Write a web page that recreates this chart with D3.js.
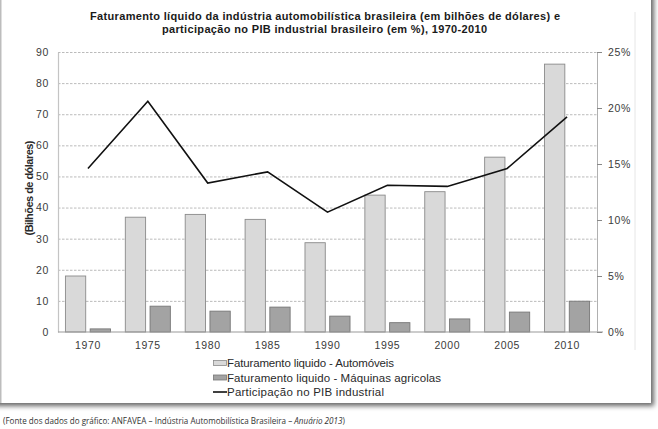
<!DOCTYPE html>
<html>
<head>
<meta charset="utf-8">
<script src="https://cdn.jsdelivr.net/npm/d3@7"></script>
<style>
  body { margin: 0; background: #fff; }
  svg { display: block; }
</style>
</head>
<body>
<div id="chart"></div>
<script>
// dados
var years = ["1970","1975","1980","1985","1990","1995","2000","2005","2010"]
var automoveis = [18.0, 36.9, 37.8, 36.2, 28.7, 44.0, 45.1, 56.2, 86.1]
var maquinas = [1.0, 8.3, 6.7, 8.0, 5.1, 3.0, 4.2, 6.4, 9.9]
var pibShare = [14.6, 20.6, 13.3, 14.3, 10.7, 13.1, 13.0, 14.6, 19.2]
var leftTicks = [0,10,20,30,40,50,60,70,80,90]
var rightTicks = [0,5,10,15,20,25]
var legendLabels = ["Faturamento liquido - Automóveis", "Faturamento liquido - Máquinas agricolas", "Participação no PIB industrial"]
var legendWidths = [167, 214, 157]

var W = 658, H = 429
var margin = {top: 52, right: 61, bottom: 97, left: 58}
var width = W - margin.left - margin.right,
    height = H - margin.top - margin.bottom

var svg = d3.select("#chart").append("svg")
  .attr("width", W)
  .attr("height", H)
  .style("font-family", "'Liberation Sans', Arial, sans-serif")

// painel com sombra
var defs = svg.append("defs")
var f = defs.append("filter").attr("id", "shadow").attr("x", "-5%").attr("y", "-5%").attr("width", "115%").attr("height", "120%")
f.append("feDropShadow").attr("dx", 3).attr("dy", 3).attr("stdDeviation", 2.5).attr("flood-color", "#000").attr("flood-opacity", 0.6)

svg.append("rect").attr("x", -10).attr("y", -10).attr("width", 661).attr("height", 413)
  .attr("fill", "#fff").attr("filter", "url(#shadow)")
svg.append("rect").attr("x", 0).attr("y", 0).attr("width", 1.5).attr("height", 403).attr("fill", "#bdbdbd")

// linha clara a direita
svg.append("line").attr("x1", 635).attr("x2", 635).attr("y1", 12).attr("y2", 350)
  .attr("stroke", "#e6e6e6").attr("stroke-width", 1)

var g = svg.append("g").attr("transform", "translate(" + margin.left + "," + margin.top + ")")

var x0 = d3.scaleBand().domain(years).range([0, width]).paddingInner(0).paddingOuter(0)
var x1 = d3.scaleBand().domain(["a","m"]).range([0, x0.bandwidth()]).paddingInner(0.18).paddingOuter(0.3)
var y = d3.scaleLinear().domain([0, 90]).range([height, 0])
var y2 = d3.scaleLinear().domain([0, 25]).range([height, 0])

// grade pontilhada
g.append("g").attr("class", "grid")
  .call(d3.axisLeft(y).tickValues(leftTicks.slice(1)).tickSize(-width).tickFormat(""))
  .call(function(s){ s.select(".domain").remove() })
  .selectAll("line").attr("stroke", "#aaa").attr("stroke-dasharray", "2.5,1.5").attr("stroke-width", 0.8)

// eixo esquerdo
var ax = g.append("g")
  .call(d3.axisLeft(y).tickValues(leftTicks).tickSize(0).tickPadding(9))
ax.select(".domain").attr("stroke", "#c4c4c4").attr("stroke-width", 1.2)
ax.selectAll("text").attr("font-size", "10.5px").attr("fill", "#3a3a3a").style("letter-spacing", "0.6px")

// barras
var groups = g.selectAll(".yr").data(years).enter().append("g")
  .attr("transform", function(d){ return "translate(" + x0(d) + ",0)" })

groups.append("rect")
  .attr("x", x1("a"))
  .attr("width", x1.bandwidth())
  .attr("y", function(d, i){ return y(automoveis[i]) })
  .attr("height", function(d, i){ return height - y(automoveis[i]) })
  .attr("fill", "#d9d9d9").attr("stroke", "#8a8a8a").attr("stroke-width", 0.9)

groups.append("rect")
  .attr("x", x1("m"))
  .attr("width", x1.bandwidth())
  .attr("y", function(d, i){ return y(maquinas[i]) })
  .attr("height", function(d, i){ return height - y(maquinas[i]) })
  .attr("fill", "#a3a3a3").attr("stroke", "#777").attr("stroke-width", 0.9)

// eixo inferior
var bx = g.append("g").attr("transform", "translate(0," + height + ")")
  .call(d3.axisBottom(x0).tickSize(0).tickPadding(10))
bx.select(".domain").attr("stroke", "#9a9a9a").attr("stroke-width", 1.2).attr("d", "M0,0H" + (width + 6))
bx.selectAll("text").attr("font-size", "10.5px").attr("fill", "#3a3a3a").style("letter-spacing", "0.6px")

// eixo direito
var rx = g.append("g").attr("transform", "translate(" + width + ",0)")
  .call(d3.axisRight(y2).tickValues(rightTicks).tickSize(5).tickPadding(6).tickFormat(function(d){ return d + "%" }))
rx.select(".domain").attr("stroke", "#b0b0b0").attr("stroke-width", 1)
rx.selectAll("line").attr("stroke", "#888")
rx.selectAll("text").attr("font-size", "10.5px").attr("fill", "#3a3a3a").style("letter-spacing", "0.6px")

// linha PIB
var line = d3.line()
  .x(function(d, i){ return x0(years[i]) + x0.bandwidth() / 2 })
  .y(function(d){ return y2(d) })
g.append("path").datum(pibShare)
  .attr("d", line)
  .attr("fill", "none").attr("stroke", "#111").attr("stroke-width", 1.6)

// titulo
svg.append("text").attr("x", 90).attr("y", 20)
  .attr("textLength", 470).attr("lengthAdjust", "spacing")
  .attr("font-size", "11px").attr("font-weight", "bold").attr("fill", "#1a1a1a")
  .text("Faturamento líquido da indústria automobilística brasileira (em bilhões de dólares) e")
svg.append("text").attr("x", 162).attr("y", 33)
  .attr("textLength", 325).attr("lengthAdjust", "spacing")
  .attr("font-size", "11px").attr("font-weight", "bold").attr("fill", "#1a1a1a")
  .text("participação no PIB industrial brasileiro (em %), 1970-2010")

// titulo eixo y
svg.append("text")
  .attr("transform", "translate(33," + 188 + ") rotate(-90)")
  .attr("text-anchor", "middle")
  .attr("textLength", 95).attr("lengthAdjust", "spacing")
  .attr("font-size", "11px").attr("font-weight", "bold").attr("fill", "#2a2a2a")
  .text("(Bilhões de dólares)")

// legenda
var leg = svg.append("g").attr("transform", "translate(213,363)")
var rows = leg.selectAll("g").data(legendLabels).enter().append("g")
  .attr("transform", function(d, i){ return "translate(0," + (i * 14.5) + ")" })
rows.each(function(d, i){
  var r = d3.select(this)
  if (i < 2) {
    r.append("rect").attr("x", 0.5).attr("y", -2.5).attr("width", 13).attr("height", 5)
      .attr("fill", i == 0 ? "#d9d9d9" : "#a3a3a3").attr("stroke", i == 0 ? "#8a8a8a" : "#777").attr("stroke-width", 0.8)
  } else {
    r.append("line").attr("x1", 0).attr("x2", 14).attr("y1", 0).attr("y2", 0)
      .attr("stroke", "#111").attr("stroke-width", 1.6)
  }
  r.append("text").attr("x", 14).attr("y", 4)
    .attr("textLength", legendWidths[i]).attr("lengthAdjust", "spacing")
    .attr("font-size", "11.5px").attr("fill", "#2a2a2a")
    .text(d)
})

// fonte (escalada para caber na largura do original)
var srcG = svg.append("g")
var src = srcG.append("text").attr("x", 0).attr("y", 0)
  .attr("font-size", "9px").attr("fill", "#333")
  .style("font-family", "'Liberation Sans Narrow', 'Open Sans', sans-serif")
src.append("tspan").text("(Fonte dos dados do gráfico: ANFAVEA – Indústria Automobilística Brasileira – ")
src.append("tspan").attr("font-style", "italic").text("Anuário 2013")
src.append("tspan").text(")")
var srcW = src.node().getComputedTextLength()
srcG.attr("transform", "translate(3,424) scale(" + (342 / srcW) + ",1)")
</script>
</body>
</html>
